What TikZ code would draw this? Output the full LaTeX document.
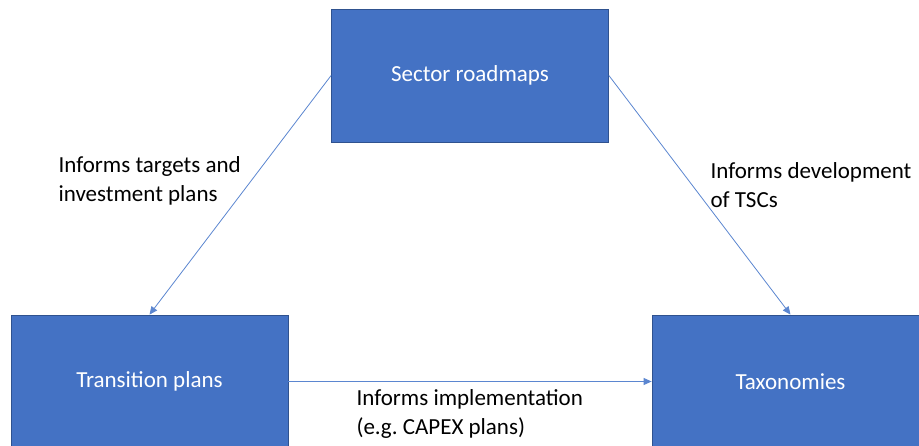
\documentclass[tikz,border=0pt]{standalone}
\usepackage{fontspec}
\setmainfont{Carlito}
\usetikzlibrary{arrows.meta}
\definecolor{boxfill}{HTML}{4472C4}
\definecolor{boxline}{HTML}{2F528F}
\definecolor{linkblue}{HTML}{5B86D0}

\begin{document}
\begin{tikzpicture}[
    x=1pt, y=1pt,
    box/.style={%
      draw=boxline,
      line width=0.8pt,
      fill=boxfill,
      rectangle,
      minimum width=277pt,
      minimum height=133pt,
      text=white,
      font=\fontsize{23}{28}\selectfont,
    },
    link/.style={%
      draw=linkblue,
      line width=0.8pt,
      -{Triangle[length=8pt,width=7pt]},
    },
    lbl/.style={%
      align=left,
      anchor=west,
      font=\fontsize{23}{29}\selectfont,
    },
  ]

    \useasboundingbox (0,0) rectangle (919,445);
    \clip (0,0) rectangle (919,445);

    \node [box] (R) at (470,369.5) {Sector roadmaps};
    \node [box] (T) at (149.5,63.5) {Transition plans};
    \node [box] (X) at (790.5,63.5) {Taxonomies};

    \draw [link] (R.west) -- (T.north);
    \draw [link] (R.east) -- (X.north);
    \draw [link] (T.east) -- (X.west);

    \node [lbl] (LT) at (55,264.5) {Informs targets and\\investment plans};
    \node [lbl] (LX) at (707,259.5) {Informs development\\of TSCs};
    \node [lbl] (LI) at (353,31.5) {Informs implementation\\(e.g.\ CAPEX plans)};
\end{tikzpicture}
\end{document}
